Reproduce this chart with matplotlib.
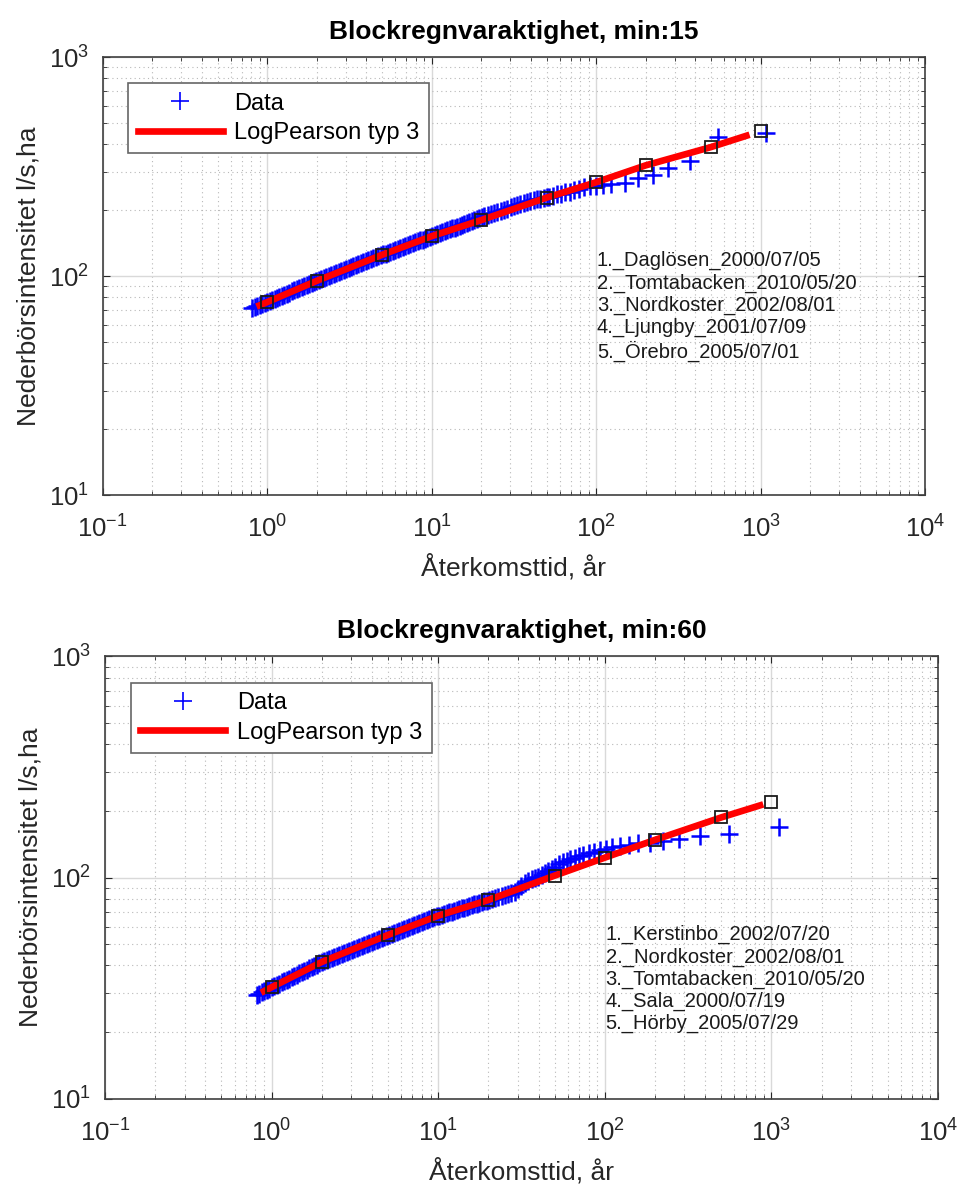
import matplotlib
matplotlib.use('Agg')
import matplotlib.pyplot as plt
from matplotlib.ticker import LogLocator, NullFormatter

plt.rcParams['font.family'] = ['Liberation Sans', 'DejaVu Sans']
plt.rcParams['mathtext.default'] = 'regular'

# --- data ---
# return periods (years) of the dense part of the series
t_band = [0.813, 0.841, 0.871, 0.902, 0.933, 0.966, 1.0, 1.035, 1.072, 1.109,
          1.148, 1.189, 1.230, 1.274, 1.318, 1.365, 1.413, 1.462, 1.514, 1.567,
          1.622, 1.679, 1.738, 1.799, 1.862, 1.928, 1.995, 2.065, 2.138, 2.213,
          2.291, 2.371, 2.455, 2.541, 2.630, 2.723, 2.818, 2.917, 3.020, 3.126,
          3.236, 3.350, 3.467, 3.589, 3.715, 3.846, 3.981, 4.121, 4.266, 4.416,
          4.571, 4.732, 4.898, 5.070, 5.248, 5.433, 5.623, 5.821, 6.026, 6.237,
          6.457, 6.683, 6.918, 7.161, 7.413, 7.674, 7.943, 8.222, 8.511, 8.810,
          9.120, 9.441, 9.772, 10.12, 10.47, 10.84, 11.22, 11.61, 12.02, 12.45,
          12.88, 13.34, 13.80, 14.29, 14.79, 15.31, 15.85, 16.41, 16.98, 17.58,
          18.20, 18.84, 19.50, 20.18, 20.9, 21.9, 22.9, 24.0, 25.1, 26.3,
          27.5, 28.8, 30.2, 31.6, 33.1, 34.7, 36.3, 38.0, 39.8, 41.7,
          43.7, 45.7, 47.9, 50.1]

# 15 min
q15_band = [71.1, 71.9, 72.7, 73.5, 74.3, 75.2, 76.0, 76.9, 77.7, 78.6,
            79.5, 80.4, 81.3, 82.2, 83.1, 84.0, 85.0, 85.9, 86.9, 87.9,
            88.8, 89.8, 90.9, 91.9, 92.9, 93.9, 95.0, 95.9, 96.9, 98.0,
            99.0, 100.0, 101.0, 102.1, 103.1, 104.2, 105.3, 106.4, 107.5, 108.6,
            109.7, 110.9, 112.0, 113.2, 114.4, 115.6, 116.8, 118.0, 119.2, 120.4,
            121.7, 122.9, 124.2, 125.5, 126.7, 128.0, 129.3, 130.5, 131.8, 133.1,
            134.4, 135.7, 137.1, 138.4, 139.8, 141.1, 142.5, 143.9, 145.3, 146.7,
            148.2, 149.6, 151.0, 152.5, 154.0, 155.5, 157.0, 158.6, 160.1, 161.7,
            163.3, 164.9, 166.5, 168.1, 169.8, 171.4, 173.1, 174.8, 176.6, 178.3,
            180.1, 181.8, 183.6, 185.4, 187.0, 189.3, 191.6, 193.9, 196.2, 198.6,
            200.9, 203.3, 205.8, 208.3, 210.7, 213.3, 215.8, 218.4, 220.5, 222.1,
            223.8, 225.4, 227.1, 228.7]
t15_tail = [52, 55, 58, 61, 65, 69, 73, 79, 85, 92, 100, 110, 123, 150, 180,
            222, 274, 371, 551, 1083]
q15_tail = [230, 233, 236, 238, 241, 243, 246, 250, 254, 258, 258, 260, 262, 267, 279,
            290, 310, 334, 433, 452]

# 60 min
q60_band = [29.4, 29.8, 30.2, 30.6, 31.0, 31.4, 31.8, 32.3, 32.7, 33.1,
            33.6, 34.0, 34.5, 34.9, 35.4, 35.9, 36.3, 36.8, 37.3, 37.8,
            38.3, 38.8, 39.3, 39.9, 40.4, 40.9, 41.5, 41.9, 42.4, 42.8,
            43.3, 43.7, 44.2, 44.6, 45.1, 45.6, 46.1, 46.6, 47.1, 47.6,
            48.1, 48.6, 49.1, 49.6, 50.2, 50.7, 51.2, 51.8, 52.3, 52.9,
            53.5, 54.0, 54.6, 55.2, 55.7, 56.3, 56.9, 57.4, 58.0, 58.6,
            59.2, 59.8, 60.4, 61.0, 61.6, 62.2, 62.8, 63.5, 64.1, 64.7,
            65.4, 66.0, 66.7, 67.3, 67.9, 68.4, 69.0, 69.6, 70.1, 70.7,
            71.3, 71.9, 72.5, 73.1, 73.7, 74.3, 74.9, 75.5, 76.1, 76.7,
            77.3, 78.0, 78.6, 79.3, 80.0, 80.9, 81.8, 82.7, 83.5, 84.2,
            84.9, 85.6, 88.5, 92.0, 94.5, 96.5, 98.0, 99.5, 101.0, 102.5,
            104.5, 107.0, 109.5, 112.0]
t60_tail = [53, 56, 59, 62, 66, 70, 74, 80, 86, 93, 101, 111, 124, 139, 159,
            186, 223, 279, 372, 557, 1115]
q60_tail = [115, 117, 119, 121, 123, 125, 126.5, 128.5, 131, 133, 135, 137, 139, 141, 143,
            144, 146, 150, 154, 157, 170]

# LogPearson typ 3 fit
lp_t15 = [0.9, 1, 2, 5, 10, 20, 50, 100, 200, 500, 820]
lp_q15 = [73.5, 76, 95, 125, 152, 180, 228, 268, 320, 388, 437]
lp_t60 = [0.9, 1, 2, 5, 10, 20, 50, 100, 200, 500, 855]
lp_q60 = [30.6, 31.9, 41.5, 55.0, 67.2, 79.1, 102, 123, 148, 187, 212]

# fitted values at standard return periods
sq_t = [1, 2, 5, 10, 20, 50, 100, 200, 500, 1000]
sq_q15 = [76, 95, 125, 152, 180, 228, 268, 320, 388, 458]
sq_q60 = [31.9, 41.5, 55.0, 67.2, 79.1, 102, 123, 148, 187, 220]

events15 = ["1._Daglösen_2000/07/05", "2._Tomtabacken_2010/05/20",
            "3._Nordkoster_2002/08/01", "4._Ljungby_2001/07/09",
            "5._Örebro_2005/07/01"]
events60 = ["1._Kerstinbo_2002/07/20", "2._Nordkoster_2002/08/01",
            "3._Tomtabacken_2010/05/20", "4._Sala_2000/07/19",
            "5._Hörby_2005/07/29"]


def panel(ax, t, q, lpt, lpq, sqq, title, events, txt_y):
    ax.plot(t, q, '+', color='blue', ms=13, mew=1.8, ls='none', label='Data', zorder=3)
    ax.plot(lpt, lpq, '-', color='red', lw=4.8, label='LogPearson typ 3', zorder=4)
    ax.plot(sq_t, sqq, 's', mfc='none', mec='#1a1a1a', ms=9, mew=1.3, ls='none', zorder=5)

    ax.set_xscale('log')
    ax.set_yscale('log')
    ax.set_xlim(0.1, 1e4)
    ax.set_ylim(10, 1000)
    ax.xaxis.set_major_locator(LogLocator(base=10, numticks=10))
    ax.xaxis.set_minor_locator(LogLocator(base=10, subs=range(2, 10), numticks=20))
    ax.yaxis.set_minor_locator(LogLocator(base=10, subs=range(2, 10), numticks=20))
    ax.xaxis.set_minor_formatter(NullFormatter())
    ax.yaxis.set_minor_formatter(NullFormatter())

    ax.set_axisbelow(True)
    ax.grid(True, which='major', color='#d9d9d9', lw=1.0, ls='-')
    ax.grid(True, which='minor', color='#b8b8b8', lw=0.8, ls=(0, (1, 3)))
    ax.tick_params(which='both', direction='in', top=True, right=True,
                   colors='#262626', labelsize=18.5)
    ax.tick_params(which='major', length=5, width=0.8)
    ax.tick_params(axis='x', which='major', pad=15)
    ax.tick_params(axis='y', which='major', pad=10)
    ax.tick_params(which='minor', length=3, width=0.6)
    for s in ax.spines.values():
        s.set_color('#404040')
        s.set_linewidth(1.2)

    ax.set_title(title, fontsize=19, fontweight='bold', pad=13)
    ax.set_xlabel('Återkomsttid, år', fontsize=19, color='#262626', labelpad=8)
    ax.set_ylabel('Nederbörsintensitet l/s,ha', fontsize=19, color='#262626', labelpad=6)

    leg = ax.legend(loc='upper left', bbox_to_anchor=(0.031, 0.94), borderaxespad=0,
                    fontsize=17, handlelength=3.6, handletextpad=0.5, labelspacing=0.3,
                    borderpad=0.4, numpoints=1, fancybox=False, framealpha=1)
    leg.get_frame().set_edgecolor('#666666')
    leg.get_frame().set_linewidth(1.2)
    leg.legend_handles[0].set_markeredgewidth(1.2)

    ax.text(0.601, txt_y, "\n".join(events), transform=ax.transAxes, ha='left', va='top',
            fontsize=14.5, linespacing=1.2, color='#1a1a1a')


fig = plt.figure(figsize=(9.6, 11.88), dpi=100)
ax1 = fig.add_axes([0.1069, 0.5833, 0.8567, 0.3687])
ax2 = fig.add_axes([0.1094, 0.0753, 0.8677, 0.3721])

panel(ax1, t_band + t15_tail, q15_band + q15_tail, lp_t15, lp_q15, sq_q15,
      'Blockregnvaraktighet, min:15', events15, 0.557)
panel(ax2, t_band + t60_tail, q60_band + q60_tail, lp_t60, lp_q60, sq_q60,
      'Blockregnvaraktighet, min:60', events60, 0.3925)

fig.savefig('out.png', dpi=100)
